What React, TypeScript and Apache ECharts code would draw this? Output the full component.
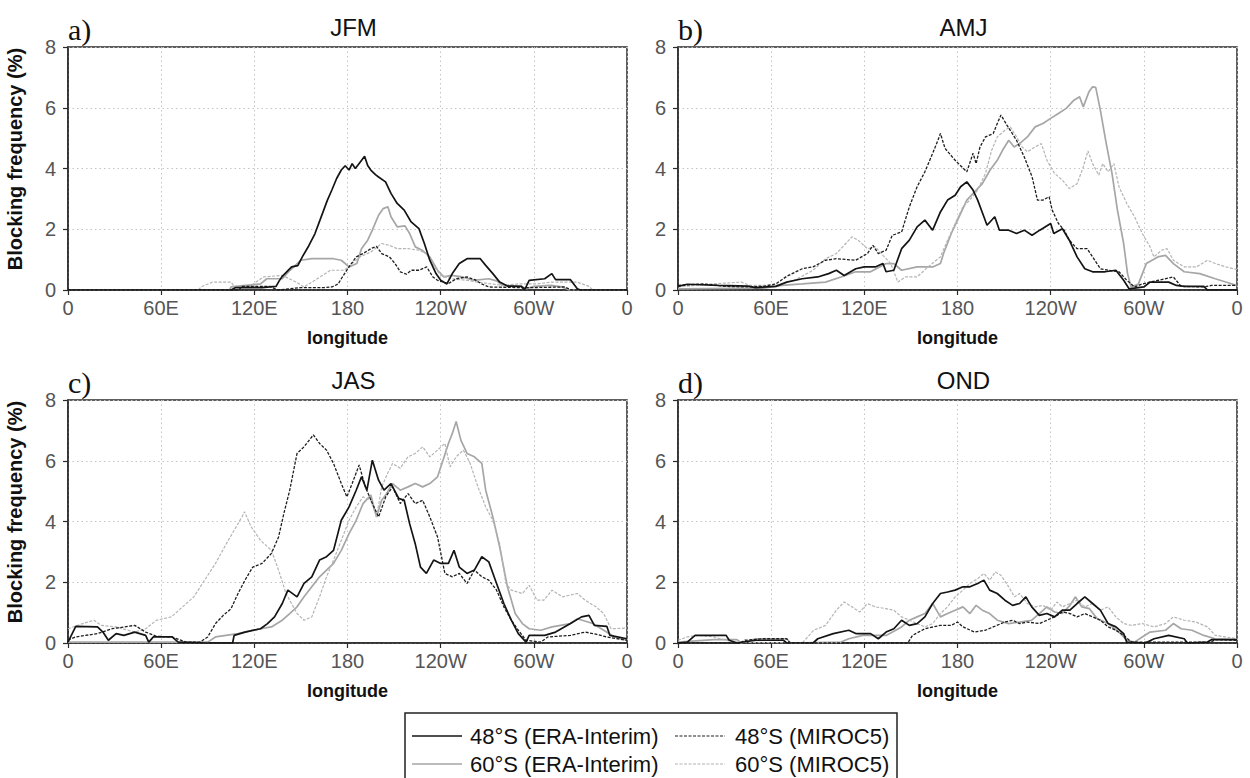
import React, { useEffect, useRef } from "react";
import * as echarts from "echarts";

// ---------- axis ticks ----------
const lonTicks = [0, 60, 120, 180, 240, 300, 360];
const lonLabels = ["0", "60E", "120E", "180", "120W", "60W", "0"];
const panelTitles = ["JFM", "AMJ", "JAS", "OND"];
const panelLetters = ["a)", "b)", "c)", "d)"];
const seriesNames = ["48°S (ERA-Interim)", "60°S (ERA-Interim)", "48°S (MIROC5)", "60°S (MIROC5)"];

// ---------- data: [longitude (0-360, eastward), blocking frequency %] ----------
const jfm48era = [[0,0],[105,0],[108,0.08],[125,0.08],[130,0.1],[134,0.12],[136,0.3],[138,0.45],[144,0.76],[148,0.8],[151,1.1],[155,1.45],[159,1.85],[163,2.4],[167,2.95],[170,3.3],[173,3.67],[176,3.95],[178.5,4.09],[181,3.95],[183,4.16],[185,4.0],[188,4.2],[191,4.4],[193,4.1],[195,3.95],[198,3.8],[200,3.72],[204.5,3.56],[208,3.18],[212,2.85],[216.5,2.63],[221,2.24],[226,2.02],[229.5,1.53],[233,0.98],[237,0.54],[240,0.32],[244,0.2],[247.5,0.54],[252,0.87],[257,1.03],[265.5,1.03],[269,0.81],[273.6,0.54],[278,0.26],[283,0.13],[292,0.12],[294,0],[297,0.32],[307,0.37],[311.6,0.54],[314,0.34],[323.6,0.34],[328,0.04],[330,0],[360,0]];
const jfm48mir = [[0,0],[110,0],[112,0.12],[130,0.12],[135,0],[150,0.08],[165,0.08],[170,0.1],[174,0.2],[176,0.37],[181,0.76],[185.6,1.09],[190,1.2],[195,1.36],[198.7,1.44],[202,1.2],[207,1.09],[210.6,0.87],[214,0.6],[218,0.52],[221,0.65],[226,0.65],[231,0.76],[235,0.43],[238,0.32],[245,0.21],[250,0.37],[257,0.43],[262,0.34],[266,0.21],[271,0.1],[290,0.08],[300,0.08],[320,0.1],[324,0],[360,0]];
const jfm60era = [[0,0],[104,0],[105,0.1],[124,0.2],[128,0.37],[138,0.37],[143,0.65],[150,0.98],[157,1.03],[171,1.03],[176,0.98],[181,0.76],[186,0.87],[189,1.36],[193,1.64],[196,1.97],[200,2.46],[203,2.68],[206,2.74],[208,2.41],[212,2.08],[217,2.11],[220,1.86],[223.7,1.42],[228,1.31],[233,1.09],[238,0.65],[242,0.43],[247,0.48],[254,0.43],[261,0.32],[271,0.37],[276,0.3],[280,0.15],[292,0.12],[295,0.04],[300,0.12],[311,0.15],[318,0.1],[323,0],[360,0]];
const jfm60mir = [[0,0],[84,0],[85.7,0.1],[93,0.26],[105,0.26],[107,0.12],[117,0.12],[126,0.43],[138,0.48],[147,0.26],[152,0.1],[159,0.32],[169,0.65],[178,0.65],[183,0.87],[188,1.09],[195,1.25],[202,1.53],[207,1.47],[212,1.36],[219,1.36],[226,1.31],[231,1.2],[235,0.82],[240,0.48],[247,0.37],[257,0.32],[264,0.26],[271,0.21],[280,0.15],[290,0.2],[302,0.2],[311,0.26],[328,0.26],[335.5,0.12],[338,0],[360,0]];

const amj48era = [[0,0.12],[6,0.19],[26,0.15],[45,0.13],[50,0.08],[63,0.12],[70,0.26],[80,0.37],[90,0.43],[97,0.54],[102,0.65],[107,0.48],[114.5,0.7],[120,0.76],[127,0.76],[132,0.87],[134,0.6],[139,0.65],[144,1.36],[149,1.64],[154,2.08],[159,2.3],[164,1.97],[169,2.57],[173.6,2.96],[178.5,3.12],[182,3.4],[186,3.56],[190,3.29],[193,2.96],[197,2.41],[199,2.13],[204,2.41],[207,1.97],[213,1.97],[218,1.86],[223,1.97],[228,1.8],[233,1.97],[240,2.19],[242,1.86],[247.5,2.02],[252,1.64],[257,1.09],[262,0.7],[267,0.6],[275,0.6],[282,0.65],[287,0.32],[290.5,0.04],[300,0.1],[304,0.26],[316,0.26],[321,0.15],[326,0.12],[338.6,0.12],[341,0],[360,0]];
const amj48mir = [[0,0.15],[16,0.2],[31,0.12],[43,0.1],[55,0.12],[63,0.2],[70,0.45],[80,0.7],[87,0.76],[95,0.98],[102,1.03],[114.5,0.98],[122,1.2],[125.6,1.47],[129,1.2],[134,1.31],[138,1.8],[144,1.91],[149,2.74],[154,3.4],[159,3.89],[164,4.5],[167.4,4.93],[169,5.15],[172,4.66],[178.5,4.27],[186,3.89],[190,4.5],[192,4.16],[194.5,4.71],[198,5.04],[203,5.15],[205.6,5.48],[208,5.76],[211.8,5.43],[218,4.93],[223,4.38],[228,3.73],[231.5,2.96],[235,2.96],[239,3.07],[241,2.63],[245,2.19],[248.7,1.97],[252,1.64],[257,1.36],[263.5,1.36],[267,1.09],[272,0.7],[277,0.65],[284,0.6],[289,0.32],[294,0.1],[299,0.2],[304,0.26],[319,0.43],[324,0.12],[338.6,0.1],[343.5,0.15],[360,0.15]];
const amj60era = [[0,0.04],[55,0.06],[67,0.15],[80,0.2],[95,0.26],[105,0.43],[114.5,0.6],[124,0.6],[134,0.87],[139,0.87],[144,0.65],[154,0.76],[164,0.76],[169,0.87],[171,1.2],[176,1.86],[181,2.41],[186,2.96],[191,3.23],[196,3.5],[201,3.95],[205.6,4.27],[209,4.6],[213,4.93],[216.5,4.71],[220,4.82],[225,5.04],[230,5.37],[235,5.48],[240,5.65],[245,5.81],[250,5.98],[255,6.25],[258.6,6.36],[261,6.03],[264.7,6.53],[267,6.69],[269,6.67],[272,5.92],[275.8,4.82],[279.5,3.84],[283,2.63],[287,1.53],[289.5,0.54],[291.8,0.1],[296.5,0.2],[301.6,0.87],[309,1.09],[314,1.14],[319,0.87],[326,0.6],[336,0.54],[346,0.37],[360,0.15]];
const amj60mir = [[0,0.1],[18,0.19],[31,0.23],[41,0.26],[46,0.15],[63,0.15],[75,0.32],[87,0.65],[95,1.03],[102,1.2],[107,1.47],[112,1.75],[116,1.64],[122,1.36],[127,1.42],[132,1.14],[137,0.87],[141.6,0.26],[146.5,0.43],[154,0.43],[161,0.76],[169,1.09],[173.6,1.64],[178.5,2.19],[183.5,2.74],[188,2.96],[193,3.29],[198,3.84],[202,4.6],[205.6,5.04],[210.5,5.26],[214,5.37],[218,5.04],[221.6,4.71],[225,4.55],[230,4.71],[234,4.82],[237.6,4.27],[242.5,3.84],[247.5,3.62],[252,3.34],[257,3.5],[261,4.05],[264,4.58],[267,4.16],[271,3.78],[273.5,4.16],[277,3.89],[280.7,4.16],[284,3.4],[289,2.85],[294,2.41],[299,1.86],[304,1.42],[306.5,1.09],[311.5,1.31],[315,1.36],[319,0.98],[326,0.76],[334,0.76],[341,0.98],[346,0.87],[353,0.76],[360,0.67]];

const jas48era = [[0,0.03],[5,0.55],[19,0.53],[22.5,0.36],[26,0.09],[31,0.31],[36,0.25],[43,0.36],[50,0.25],[52,0.03],[55,0.2],[67,0.2],[71,0.03],[90,0],[106,0],[107,0.25],[114,0.36],[124,0.47],[128.5,0.64],[133,0.86],[138,1.3],[141.6,1.74],[147.5,1.52],[152,1.96],[157,2.18],[162,2.73],[166.5,2.84],[171,3.05],[176,4.04],[181,4.48],[185.6,5.03],[189,5.47],[192.5,5.03],[196,6.02],[200,5.36],[203.5,5.03],[208,5.25],[213,4.76],[216.5,4.7],[220,3.93],[223.6,3.27],[227,2.5],[230.8,2.29],[235.5,2.73],[240,2.62],[245,2.62],[248.6,3.05],[252,2.5],[257,2.29],[261.7,2.4],[266.5,2.84],[271,2.67],[276,1.96],[280.7,1.3],[285.5,0.75],[290,0.31],[295,0.03],[297,0.25],[307,0.25],[314,0.36],[323.6,0.64],[330.7,0.86],[335.5,0.91],[339,0.58],[347,0.55],[349,0.25],[360,0.14]];
const jas48mir = [[0,0.1],[5,0.2],[19,0.31],[28.5,0.47],[43,0.58],[50,0.36],[57,0.22],[67,0.2],[76,0.03],[85,0.03],[90,0.2],[95,0.64],[100,0.91],[105,1.13],[109.5,1.63],[114,2.07],[119,2.5],[125,2.62],[131,2.95],[135.6,3.49],[139,4.26],[142.8,5.03],[147.5,6.24],[152,6.46],[158,6.85],[162,6.57],[166.5,6.35],[171,5.91],[176,5.25],[179.6,4.81],[183,5.25],[187.5,5.86],[191.5,5.14],[196,4.59],[200,4.15],[204.6,4.81],[209,5.14],[214,4.59],[219,4.92],[223.6,4.59],[228.4,4.7],[233,4.15],[238,3.49],[242.7,2.29],[247.5,2.18],[252,2.29],[257,1.96],[261.7,2.4],[266.5,2.18],[271,2.07],[276,1.74],[280.7,1.19],[285.5,0.75],[290,0.42],[295,0.09],[304.5,0.03],[309,0.2],[323.6,0.25],[333,0.36],[340,0.29],[347,0.2],[360,0.09]];
const jas60era = [[0,0.03],[90,0.03],[95,0.2],[109.5,0.31],[124,0.47],[131,0.53],[138,0.75],[142.8,0.97],[147.5,1.19],[152,1.52],[157,1.85],[162,2.18],[166.5,2.4],[171,2.62],[176,3.05],[181,3.6],[185.6,4.04],[190,4.59],[195,4.87],[198.7,4.15],[202,4.7],[204.6,4.87],[209,5.25],[214,5.03],[219,5.14],[223.6,5.25],[228.4,5.14],[233,5.25],[238,5.47],[241.5,6.02],[245,6.57],[247.5,6.9],[250,7.29],[253,6.68],[257,6.24],[261.7,6.13],[266.5,5.91],[269,5.03],[273.6,4.15],[278,3.16],[283,1.85],[288,0.97],[292.6,0.64],[297,0.47],[304.5,0.42],[311.7,0.53],[323.6,0.64],[328,0.8],[338,0.64],[345,0.42],[352,0.2],[360,0.09]];
const jas60mir = [[0,0.47],[9.5,0.64],[16.7,0.75],[21.4,0.58],[31,0.53],[43,0.36],[50,0.47],[57,0.75],[66.6,0.86],[73.8,1.19],[81,1.52],[88,2.07],[95,2.62],[102,3.27],[107,3.71],[112,4.15],[113.7,4.32],[118,3.82],[124,3.38],[131,3.05],[135.6,2.4],[140.4,1.63],[147.5,0.97],[152,0.75],[157,0.86],[162,1.52],[166.5,2.18],[171,2.73],[176,3.38],[181,4.04],[185.6,4.48],[190,4.81],[195,4.7],[198.7,4.15],[202,5.14],[205.8,5.58],[209,5.91],[214,5.75],[219,6.13],[223.6,6.24],[228.4,6.46],[233,6.13],[238,6.35],[242.7,6.57],[246,5.8],[250,6.13],[254.6,6.35],[259,5.91],[264,5.14],[269,4.48],[273.6,4.04],[278,3.27],[282,1.96],[285.5,1.74],[292.6,1.63],[297,1.9],[302,1.41],[306.5,1.41],[311.7,1.74],[318.5,1.52],[328,1.63],[333,1.41],[340,1.19],[345,0.97],[349.7,0.47],[360,0.49]];

const ond48era = [[0,0],[6,0.03],[11,0.25],[31,0.25],[33,0.09],[38,0],[50,0.09],[68,0.09],[70,0],[87,0],[90,0.14],[100,0.31],[110,0.42],[114.5,0.31],[124,0.31],[129,0.14],[134,0.36],[139,0.47],[144,0.75],[149,0.58],[154,0.64],[159,0.86],[164,1.3],[169,1.63],[173.6,1.68],[178.5,1.74],[183.5,1.85],[188,1.85],[193,1.96],[197,2.07],[200.7,1.74],[205.6,1.63],[210.5,1.41],[215.5,1.24],[220,1.3],[224,1.52],[227.8,1.19],[232.7,0.91],[237.6,0.97],[242.5,0.86],[247.5,1.08],[252.4,1.08],[257,1.3],[262,1.52],[267,1.3],[272,1.08],[277,0.64],[282,0.53],[287,0.31],[289,0.03],[301,0],[306.6,0.14],[316,0.25],[326,0.14],[328,0],[341,0.03],[343.5,0.11],[360,0.11]];
const ond48mir = [[0,0],[40,0],[43,0.09],[55,0.14],[70,0.14],[72,0],[148,0],[151,0.25],[159,0.47],[169,0.58],[176,0.58],[180,0.69],[183.5,0.53],[191,0.36],[198,0.42],[203,0.53],[210.5,0.69],[215.5,0.75],[220,0.64],[225,0.69],[232.7,0.64],[237.6,0.75],[242.5,0.86],[247.5,1.02],[252.4,0.97],[257,0.86],[262,0.97],[267,0.86],[272,0.75],[277,0.53],[282,0.42],[287,0.25],[292,0.03],[343,0.03],[346,0.11],[360,0.09]];
const ond60era = [[0,0.03],[23,0.11],[38,0.11],[40.6,0],[50,0.14],[70,0.14],[72.6,0],[105,0.03],[110,0.14],[119,0.25],[134,0.25],[144,0.53],[149,0.75],[154,0.86],[159,0.97],[164,1.3],[169,0.86],[173.6,0.97],[178.5,1.08],[183.5,1.19],[188,0.97],[192,1.24],[196,1.08],[200.7,0.97],[205.6,0.75],[213,0.64],[220,0.69],[227.8,0.75],[232.7,0.97],[237.6,1.19],[242.5,1.02],[247.5,0.97],[252.4,1.24],[256,1.52],[260,1.19],[265,1.13],[270,0.8],[277,0.64],[284,0.36],[289,0.09],[294,0.03],[299,0.2],[304,0.36],[314,0.42],[319,0.64],[324,0.47],[331,0.42],[338.6,0.25],[346,0.14],[360,0.11]];
const ond60mir = [[0,0.09],[6,0.2],[13,0.25],[23,0.2],[31,0.09],[36,0.03],[80,0],[82.5,0.14],[87.4,0.42],[95,0.58],[102,1.08],[107,1.35],[112,1.19],[117,1.02],[122,1.3],[127,1.19],[134,1.13],[139,1.08],[144,0.86],[149,0.75],[154,0.64],[159,0.53],[164,0.64],[169,0.97],[173.6,1.19],[178.5,1.52],[183.5,1.74],[188,1.96],[193,2.12],[197,2.29],[200.7,2.07],[204.4,2.34],[208,2.23],[213,1.85],[216.7,1.52],[220,1.63],[225,1.3],[230,1.19],[235,1.24],[240,1.08],[244,1.35],[247.5,1.19],[252.4,1.3],[257,1.41],[262,1.19],[267,1.3],[272,1.08],[277,1.19],[282,0.86],[287,0.64],[292,0.58],[299,0.64],[306.6,0.53],[314,0.64],[319,0.86],[326,0.75],[333.6,0.69],[341,0.53],[346,0.25],[360,0.14]];

const panelData = [
  [jfm48era, jfm60era, jfm48mir, jfm60mir],
  [amj48era, amj60era, amj48mir, amj60mir],
  [jas48era, jas60era, jas48mir, jas60mir],
  [ond48era, ond60era, ond48mir, ond60mir],
];

export default function App() {
  const ref = useRef<HTMLDivElement>(null);

  useEffect(() => {
    if (!ref.current) return;
    const chart = echarts.init(ref.current, null, { renderer: "svg" });

    const panels = [
      { left: 68, top: 47 },
      { left: 678, top: 47 },
      { left: 68, top: 400 },
      { left: 678, top: 400 },
    ];
    const W = 559;
    const H = 243;
    const axisColor = "#2a2a2a";
    const tickFont = { fontFamily: "Liberation Sans", fontSize: 20, color: "#555" };

    const styles = [
      { color: "#141414", width: 1.7, type: "solid" },
      { color: "#a6a6a6", width: 1.7, type: "solid" },
      { color: "#1e1e1e", width: 1.3, type: [3, 1.5] },
      { color: "#b4b4b4", width: 1.2, type: [3, 1.5] },
    ];

    const grid = panels.map((p) => ({
      left: p.left,
      top: p.top,
      width: W,
      height: H,
      show: true,
      borderColor: axisColor,
      borderWidth: 1.5,
      backgroundColor: "transparent",
      containLabel: false,
    }));

    const xAxis = panels.map((_, i) => ({
      type: "value",
      gridIndex: i,
      min: 0,
      max: 360,
      interval: 60,
      axisLine: { show: true, onZero: false, lineStyle: { color: axisColor, width: 1.5 } },
      axisTick: { show: true, inside: false, length: 5, lineStyle: { color: axisColor, width: 1.2 } },
      axisLabel: {
        ...tickFont,
        margin: 8,
        formatter: (v: number) => {
          const k = lonTicks.indexOf(v);
          return k >= 0 ? lonLabels[k] : "";
        },
      },
      splitLine: { show: true, lineStyle: { color: "#c4c4c4", type: [1.5, 3], width: 1 } },
    }));

    const yAxis = panels.map((_, i) => ({
      type: "value",
      gridIndex: i,
      min: 0,
      max: 8,
      interval: 2,
      axisLine: { show: true, lineStyle: { color: axisColor, width: 1.5 } },
      axisTick: { show: true, inside: false, length: 5, lineStyle: { color: axisColor, width: 1.2 } },
      axisLabel: { ...tickFont, margin: 12 },
      splitLine: { show: true, lineStyle: { color: "#c4c4c4", type: [1.5, 3], width: 1 } },
    }));

    const series: any[] = [];
    panelData.forEach((group, i) => {
      group.forEach((d, j) => {
        series.push({
          type: "line",
          name: seriesNames[j],
          xAxisIndex: i,
          yAxisIndex: i,
          data: d,
          showSymbol: false,
          symbol: "none",
          lineStyle: styles[j],
          z: 3 + (j === 0 ? 2 : j === 2 ? 1 : 0),
        });
      });
    });

    const graphic: any[] = [];
    panels.forEach((p, i) => {
      const top = p.top;
      graphic.push({
        type: "text",
        x: p.left,
        y: top - 18,
        style: {
          text: panelLetters[i],
          font: "30px 'Liberation Serif'",
          fill: "#111",
          align: "left",
          verticalAlign: "middle",
        },
      });
      graphic.push({
        type: "text",
        x: p.left + W / 2 + 6,
        y: top - 20,
        style: {
          text: panelTitles[i],
          font: "24px 'Liberation Sans'",
          fill: "#111",
          align: "center",
          verticalAlign: "middle",
        },
      });
      graphic.push({
        type: "text",
        x: p.left + W / 2,
        y: top + H + 48,
        style: {
          text: "longitude",
          font: "bold 18px 'Liberation Sans'",
          fill: "#111",
          align: "center",
          verticalAlign: "middle",
        },
      });
      if (i % 2 === 0) {
        graphic.push({
          type: "text",
          x: 15,
          y: top + 112,
          rotation: Math.PI / 2,
          style: {
            text: "Blocking frequency (%)",
            font: "bold 20px 'Liberation Sans'",
            fill: "#111",
            align: "center",
            verticalAlign: "middle",
          },
        });
      }
    });

    // legend box
    const lgX = 405;
    const lgY = 713;
    graphic.push({
      type: "rect",
      shape: { x: lgX, y: lgY, width: 492, height: 90 },
      style: { fill: "none", stroke: "#222", lineWidth: 1.5 },
    });
    const rows = [736, 764];
    const cols = [
      { lx: 412, tx: 470 },
      { lx: 675, tx: 735 },
    ];
    const legendOrder = [
      [0, 2],
      [1, 3],
    ];
    legendOrder.forEach((row, r) => {
      row.forEach((si, c) => {
        const s = styles[si];
        graphic.push({
          type: "line",
          shape: { x1: cols[c].lx, y1: rows[r], x2: cols[c].lx + 50, y2: rows[r] },
          style: {
            stroke: s.color,
            lineWidth: si < 2 ? 1.5 : 1.2,
            lineDash: s.type === "solid" ? null : [3, 1.5],
          },
        });
        graphic.push({
          type: "text",
          x: cols[c].tx,
          y: rows[r],
          style: {
            text: seriesNames[si],
            font: "22px 'Liberation Sans'",
            fill: "#111",
            align: "left",
            verticalAlign: "middle",
          },
        });
      });
    });

    chart.setOption({
      animation: false,
      backgroundColor: "#ffffff",
      grid,
      xAxis,
      yAxis,
      series,
      graphic,
    });

    return () => chart.dispose();
  }, []);

  return (
    <div
      ref={ref}
      style={{ position: "absolute", left: 0, top: 0, width: 1250, height: 778 }}
    />
  );
}
